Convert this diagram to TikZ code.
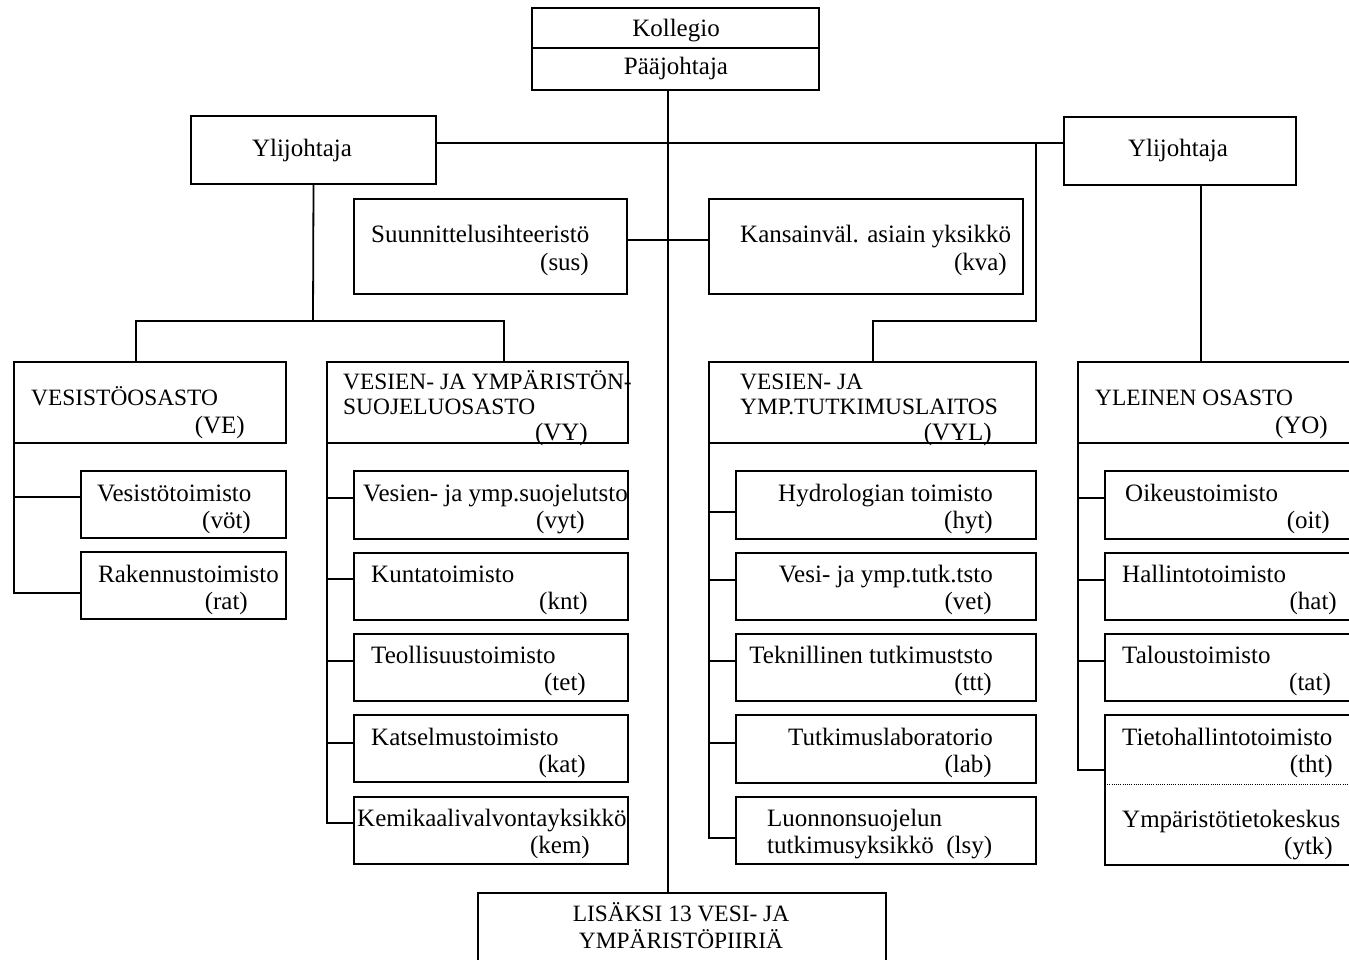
\documentclass[tikz,border=0pt]{standalone}
\usepackage{fontspec}
\setmainfont{Liberation Serif}
\newcommand\orgbox[5]{\node[box,minimum width=#4pt,minimum height=#5pt] (#1) at (#2,#3) {};}
\newcommand\ltxt[4]{\node[lbl,anchor=base west] (#1) at (#2,#3) {#4};}
\newcommand\rtxt[4]{\node[lbl,anchor=base east] (#1) at (#2,#3) {#4};}
\newcommand\ctxt[4]{\node[lbl,anchor=base] (#1) at (#2,#3) {#4};}
\newcommand\capsz{\fontsize{23.4}{28}\selectfont}
\begin{document}
\begin{tikzpicture}[x=1pt,y=-1pt,
  box/.style={draw,line width=1.8pt,inner sep=0pt,outer sep=0pt,anchor=north west},
  lbl/.style={inner sep=0pt,font=\fontsize{25}{28}\selectfont},
  con/.style={line width=1.8pt}]
\clip (0,0) rectangle (1349,960);
\fill[white] (0,0) rectangle (1349,960);
% boxes
\orgbox{kol}{532}{8}{287}{82}
\orgbox{yl1}{191}{116}{245}{68}
\orgbox{yl2}{1064}{117}{232}{68}
\orgbox{sus}{354}{199}{273}{95}
\orgbox{kva}{709}{199}{314}{95}
\orgbox{ve}{14}{362}{272}{81}
\orgbox{vy}{327}{362}{301}{81}
\orgbox{vyl}{709}{362}{327}{81}
\orgbox{yo}{1078}{362}{280}{81}
\orgbox{vot}{81}{471}{205}{67}
\orgbox{rat}{81}{552}{205}{67}
\orgbox{vyt}{354}{471}{274}{68}
\orgbox{knt}{354}{553}{274}{67}
\orgbox{tet}{354}{634}{274}{67}
\orgbox{kat}{354}{715}{274}{67}
\orgbox{kem}{354}{797}{274}{67}
\orgbox{hyt}{736}{471}{300}{68}
\orgbox{vet}{736}{553}{300}{67}
\orgbox{ttt}{736}{634}{300}{67}
\orgbox{lab}{736}{715}{300}{68}
\orgbox{lsy}{736}{797}{300}{67}
\orgbox{oit}{1105}{471}{255}{68}
\orgbox{hat}{1105}{553}{255}{67}
\orgbox{tat}{1105}{634}{255}{67}
\orgbox{tht}{1105}{715}{255}{150}
\orgbox{lis}{478}{893}{408}{80}
% inner dividers
\draw[con] (kol.west |- 0,48) -- (kol.east |- 0,48);
\draw[line width=1pt,dash pattern=on 1pt off 1.2pt] (tht.west |- 0,784) -- (tht.east |- 0,784);
% connectors
\coordinate (trunk) at (668,0);
\draw[con] (kol.south -| trunk) -- (lis.north -| trunk);
\draw[con] (yl1.east |- 0,143) -- (yl2.west |- 0,143);
\draw[con] (sus.east |- 0,240) -- (kva.west |- 0,240);
\draw[con] (yl1.south) -- (313,321);
\draw[con] (ve.north -| 136,0) -- (136,321) -- (504,321) -- (vy.north -| 504,0);
\coordinate (rj) at (1036,143);
\draw[con] (rj) -- (1036,321) -- (873,321) -- (vyl.north -| 873,0);
\draw[con] (yl2.south -| 1201,0) -- (yo.north -| 1201,0);
% brackets
\draw[con] (ve.south west) -- (ve.south west |- 0,593) -- (rat.west |- 0,593);
\draw[con] (ve.south west |- 0,497) -- (vot.west |- 0,497);
\draw[con] (vy.south west) -- (vy.south west |- 0,823) -- (kem.west |- 0,823);
\foreach \b/\yy in {vyt/498,knt/579,tet/661,kat/743}
  \draw[con] (vy.south west |- 0,\yy) -- (\b.west |- 0,\yy);
\draw[con] (vyl.south west) -- (vyl.south west |- 0,838) -- (lsy.west |- 0,838);
\foreach \b/\yy in {hyt/512,vet/580,ttt/661,lab/743}
  \draw[con] (vyl.south west |- 0,\yy) -- (\b.west |- 0,\yy);
\draw[con] (yo.south west) -- (yo.south west |- 0,770) -- (tht.west |- 0,770);
\foreach \b/\yy in {oit/498,hat/580,tat/661}
  \draw[con] (yo.south west |- 0,\yy) -- (\b.west |- 0,\yy);
% texts
\ctxt{tkol}{676}{37}{Kollegio}
\ctxt{tpj}{676}{75}{Pääjohtaja}
\ctxt{tyl1}{302}{157}{Ylijohtaja}
\ctxt{tyl2}{1178}{157}{Ylijohtaja}
\ltxt{tsus1}{371}{242}{Suunnittelusihteeristö}
\rtxt{tsus2}{589}{270}{(sus)}
\ltxt{tkva1}{740}{242}{Kansainväl. asiain yksikkö}
\rtxt{tkva2}{1007}{270}{(kva)}
\ltxt{tve1}{31}{405}{\capsz VESISTÖOSASTO}
\rtxt{tve2}{245}{433}{(VE)}
\ltxt{tvy1}{343}{389}{\capsz VESIEN- JA YMPÄRISTÖN-}
\ltxt{tvy2}{343}{414}{\capsz SUOJELUOSASTO}
\rtxt{tvy3}{588}{440}{(VY)}
\ltxt{tvyl1}{740}{389}{\capsz VESIEN- JA}
\ltxt{tvyl2}{740}{414}{\capsz YMP.TUTKIMUSLAITOS}
\rtxt{tvyl3}{992}{440}{(VYL)}
\ltxt{tyo1}{1095}{405}{\capsz YLEINEN OSASTO}
\rtxt{tyo2}{1328}{433}{(YO)}
\ltxt{tvot1}{97}{501}{Vesistötoimisto}
\rtxt{tvot2}{251}{528}{(vöt)}
\ltxt{trat1}{98}{582}{Rakennustoimisto}
\rtxt{trat2}{248}{609}{(rat)}
\ltxt{tvyt1}{363}{501}{Vesien- ja ymp.suojelutsto}
\rtxt{tvyt2}{585}{528}{(vyt)}
\ltxt{tknt1}{371}{582}{Kuntatoimisto}
\rtxt{tknt2}{588}{609}{(knt)}
\ltxt{ttet1}{371}{663}{Teollisuustoimisto}
\rtxt{ttet2}{586}{690}{(tet)}
\ltxt{tkat1}{371}{745}{Katselmustoimisto}
\rtxt{tkat2}{586}{772}{(kat)}
\ltxt{tkem1}{357}{826}{Kemikaalivalvontayksikkö}
\rtxt{tkem2}{590}{853}{(kem)}
\rtxt{thyt1}{993}{501}{Hydrologian toimisto}
\rtxt{thyt2}{993}{528}{(hyt)}
\rtxt{tvet1}{993}{582}{Vesi- ja ymp.tutk.tsto}
\rtxt{tvet2}{992}{609}{(vet)}
\rtxt{tttt1}{993}{663}{Teknillinen tutkimuststo}
\rtxt{tttt2}{992}{690}{(ttt)}
\rtxt{tlab1}{993}{745}{Tutkimuslaboratorio}
\rtxt{tlab2}{992}{772}{(lab)}
\ltxt{tlsy1}{767}{826}{Luonnonsuojelun}
\ltxt{tlsy2}{767}{853}{tutkimusyksikkö~~(lsy)}
\ltxt{toit1}{1125}{501}{Oikeustoimisto}
\rtxt{toit2}{1330}{528}{(oit)}
\ltxt{that1}{1122}{582}{Hallintotoimisto}
\rtxt{that2}{1337}{609}{(hat)}
\ltxt{ttat1}{1122}{663}{Taloustoimisto}
\rtxt{ttat2}{1331}{690}{(tat)}
\ltxt{ttht1}{1122}{745}{Tietohallintotoimisto}
\rtxt{ttht2}{1333}{772}{(tht)}
\ltxt{tytk1}{1122}{827}{Ympäristötietokeskus}
\rtxt{tytk2}{1333}{854}{(ytk)}
\ctxt{tlis1}{681}{921}{\capsz LISÄKSI 13 VESI- JA}
\ctxt{tlis2}{681}{948}{\capsz YMPÄRISTÖPIIRIÄ}
\end{tikzpicture}
\end{document}
